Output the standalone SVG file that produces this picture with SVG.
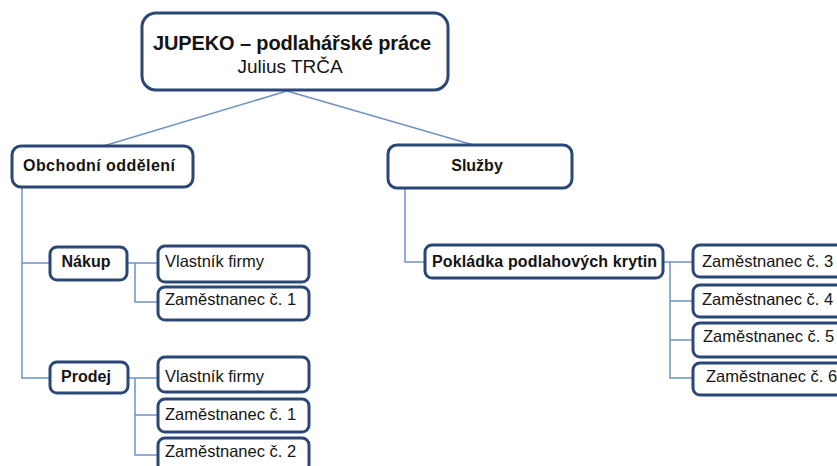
<svg xmlns="http://www.w3.org/2000/svg" width="837" height="466" viewBox="0 0 837 466">
<style>
.box{fill:#fff;stroke:#2a4777;stroke-width:3}
.c{fill:none;stroke:#6e92c9;stroke-width:1.5}
text{font-family:"Liberation Sans",Arial,sans-serif;fill:#141414}
.b{font-weight:bold;font-size:16px}
.r{font-size:16.5px}
</style>
<rect width="837" height="466" fill="#fff"/>
<g id="connectors">
<path class="c" d="M287 91 L100 147 M287 91 L477 146"/>
<path class="c" d="M22 188 V378 H50 M22 263 H50"/>
<path class="c" d="M127 263 H158 M135 263 V302 H158"/>
<path class="c" d="M128 378 H158 M135 378 V455 H158 M135 415 H158"/>
<path class="c" d="M405 188 V262 H425"/>
<path class="c" d="M663 262 H693 M670 262 V378 H693 M670 301 H693 M670 340 H693"/>
</g>
<g id="root">
<rect class="box" x="142" y="13" width="306" height="77" rx="14"/>
<text x="292" y="50" text-anchor="middle" font-size="20" font-weight="bold" textLength="278" fill="#1b2236">JUPEKO – podlahářské práce</text>
<text x="290" y="73" text-anchor="middle" font-size="19" fill="#2c4a80">Julius TRČA</text>
</g>
<g id="obchodni">
<rect class="box" x="12" y="146" width="181" height="41" rx="9"/>
<text class="b" x="23" y="171" textLength="152">Obchodní oddělení</text>
</g>
<g id="sluzby">
<rect class="box" x="388" y="145" width="184" height="43" rx="9"/>
<text class="b" x="477" y="171" text-anchor="middle">Služby</text>
</g>
<g id="nakup">
<rect class="box" x="50" y="247" width="77" height="33" rx="7"/>
<text class="b" x="86" y="267" text-anchor="middle">Nákup</text>
</g>
<g id="nakup-vlastnik">
<rect class="box" x="158" y="246" width="151" height="36" rx="7"/>
<text class="r" x="165" y="267">Vlastník firmy</text>
</g>
<g id="nakup-zam1">
<rect class="box" x="158" y="287" width="151" height="33" rx="7"/>
<text class="r" x="165" y="305">Zaměstnanec č. 1</text>
</g>
<g id="prodej">
<rect class="box" x="50" y="362" width="78" height="31" rx="7"/>
<text class="b" x="86" y="382" text-anchor="middle">Prodej</text>
</g>
<g id="prodej-vlastnik">
<rect class="box" x="158" y="357" width="151" height="35" rx="7"/>
<text class="r" x="165" y="382">Vlastník firmy</text>
</g>
<g id="prodej-zam1">
<rect class="box" x="158" y="399" width="151" height="33" rx="7"/>
<text class="r" x="165" y="420">Zaměstnanec č. 1</text>
</g>
<g id="prodej-zam2">
<rect class="box" x="158" y="438" width="151" height="34" rx="7"/>
<text class="r" x="165" y="457">Zaměstnanec č. 2</text>
</g>
<g id="pokladka">
<rect class="box" x="425" y="245" width="238" height="33" rx="7"/>
<text class="b" x="432" y="267" textLength="225">Pokládka podlahových krytin</text>
</g>
<g id="zam3">
<rect class="box" x="693" y="245" width="155" height="32" rx="7"/>
<text class="r" x="702" y="267">Zaměstnanec č. 3</text>
</g>
<g id="zam4">
<rect class="box" x="693" y="285" width="155" height="32" rx="7"/>
<text class="r" x="702" y="305">Zaměstnanec č. 4</text>
</g>
<g id="zam5">
<rect class="box" x="693" y="323" width="155" height="34" rx="7"/>
<text class="r" x="703" y="342">Zaměstnanec č. 5</text>
</g>
<g id="zam6">
<rect class="box" x="693" y="363" width="155" height="32" rx="7"/>
<text class="r" x="706" y="382">Zaměstnanec č. 6</text>
</g>
</svg>
